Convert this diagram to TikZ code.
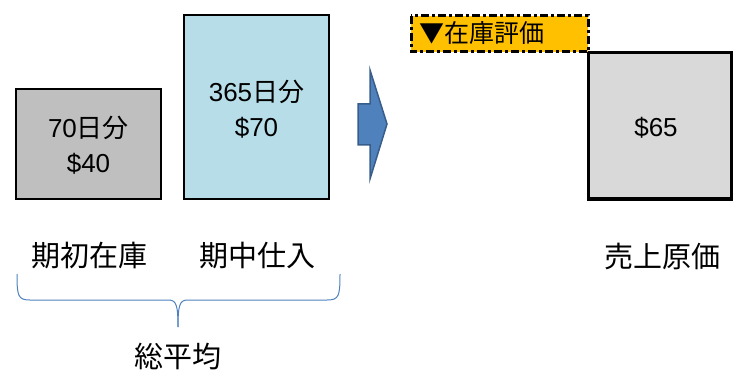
\documentclass[tikz,border=0pt]{standalone}
\usepackage{fontspec}
\setmainfont{Liberation Sans}
\newfontfamily\jp{Noto Sans CJK JP}
\definecolor{boxgray}{HTML}{BFBFBF}
\definecolor{boxblue}{HTML}{B7DDE8}
\definecolor{boxlight}{HTML}{D9D9D9}
\definecolor{arrowblue}{HTML}{4F81BD}
\definecolor{arrowedge}{HTML}{385D8A}
\definecolor{tagyellow}{HTML}{FFC000}
\tikzset{
  qbox/.style={draw=black, line width=2pt, inner sep=0pt},
  boxtext/.style={font=\fontsize{26}{35}\selectfont, align=center},
  label/.style={font=\jp\fontsize{29}{32}\selectfont},
}
\begin{document}
\begin{tikzpicture}[x=1pt,y=-1pt]
\useasboundingbox (0,0) rectangle (741,382);
% boxes
\draw[qbox, fill=boxgray] (16,89) rectangle (161,199);
\node[boxtext] (b1) at (88.5,145) {70{\jp 日分}\\\$40};
\draw[qbox, fill=boxblue] (184,15) rectangle (329,199);
\node[boxtext] (b2) at (256.5,109) {365{\jp 日分}\\\$70};
\draw[draw=black, line width=3pt, fill=boxlight] (588,53) rectangle (731,199);
\node[boxtext] (b3) at (656,128) {\$65};
% tag
\draw[draw=black, line width=3pt, fill=tagyellow, dash pattern=on 8pt off 3pt on 3pt off 3pt] (411,16) rectangle (588,52);
\node[font=\jp\fontsize{25}{28}\selectfont, anchor=west] (tag) at (416,33) {▼在庫評価};
% arrow
\draw[fill=arrowblue, draw=arrowedge, line width=1.5pt, line join=miter]
  (358,104) -- (370,104) -- (370,70) -- (387,124) -- (370,179) -- (370,145) -- (358,145) -- cycle;
% labels
\node[label] (l1) at (89,256) {期初在庫};
\node[label] (l2) at (257,256) {期中仕入};
\node[label] (l3) at (662,256) {売上原価};
\node[label] (l4) at (178,357) {総平均};
% brace
\draw[arrowblue, line width=1pt]
  (17,274) .. controls (17,296) and (18,300) .. (30,300)
  -- (168,300) .. controls (176,300) and (178,304) .. (178,327);
\draw[arrowblue, line width=1pt]
  (340,274) .. controls (340,296) and (339,300) .. (327,300)
  -- (188,300) .. controls (180,300) and (178,304) .. (178,327);
\end{tikzpicture}
\end{document}
